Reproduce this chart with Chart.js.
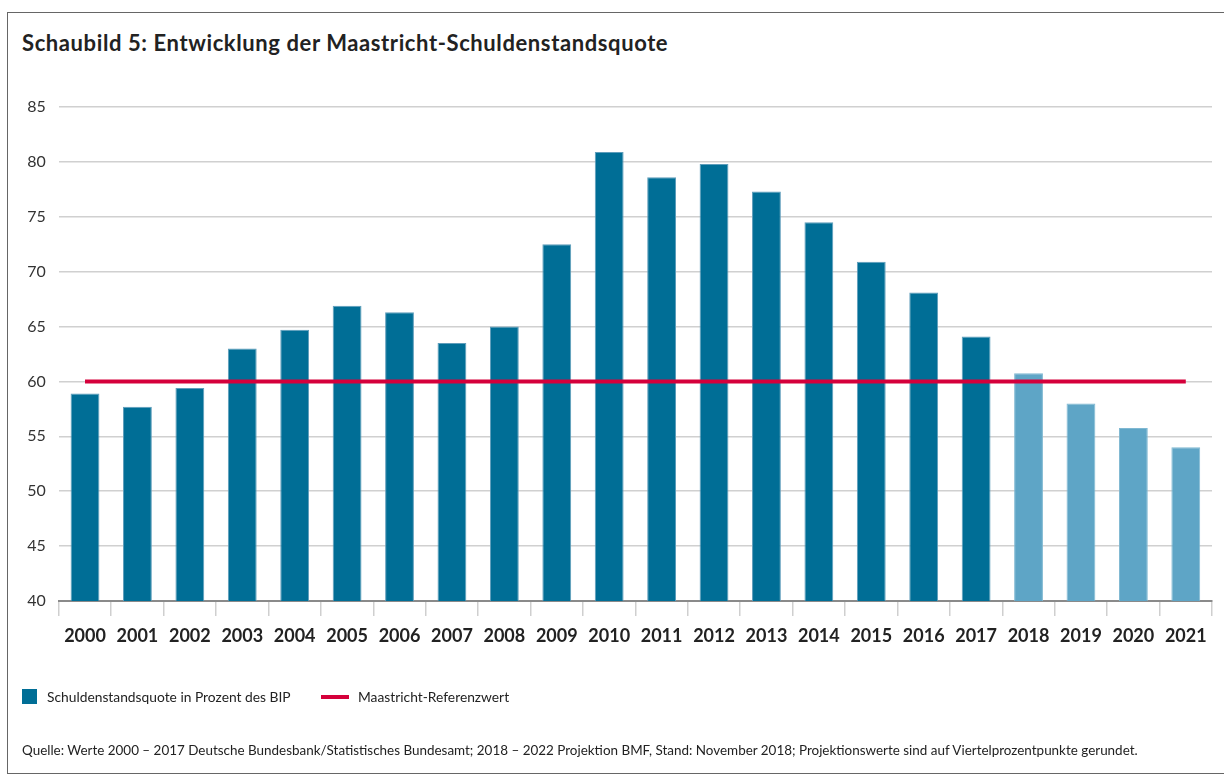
<!DOCTYPE html>
<html>
<head>
<meta charset="utf-8">
<script src="https://cdn.jsdelivr.net/npm/chart.js@4.4.1/dist/chart.umd.min.js"></script>
<style>
  html, body { margin:0; padding:0; background:#fff; }
  body { width:1224px; height:780px; position:relative; overflow:hidden; font-family: Lato, "Noto Sans", sans-serif; color:#222; }
  #frame { position:absolute; left:7px; top:12px; width:1220px; height:762px; border:1.5px solid #666; box-sizing:border-box; }
  #title { position:absolute; left:22px; top:29px; font-size:22px; font-weight:700; white-space:nowrap; letter-spacing:0.6px; }
  #cv { position:absolute; left:0; top:0; }
  .legend { position:absolute; top:688px; font-size:13.8px; white-space:nowrap; display:flex; align-items:center; }
  .sq { width:15px; height:15px; background:#006E96; display:inline-block; margin-right:10px; }
  .ln { width:28px; height:4px; background:#D5003B; display:inline-block; margin-right:9px; }
  #footer { position:absolute; left:22px; top:742px; font-size:13.45px; white-space:nowrap; }
</style>
</head>
<body>
<div id="frame"></div>
<div id="title">Schaubild 5: Entwicklung der Maastricht-Schuldenstandsquote</div>
<canvas id="cv" width="1224" height="780"></canvas>
<div class="legend" style="left:22px;"><span class="sq"></span>Schuldenstandsquote in Prozent des BIP</div>
<div class="legend" style="left:321px;"><span class="ln"></span>Maastricht-Referenzwert</div>
<div id="footer">Quelle: Werte 2000 – 2017 Deutsche Bundesbank/Statistisches Bundesamt; 2018 – 2022 Projektion BMF, Stand: November 2018; Projektionswerte sind auf Viertelprozentpunkte gerundet.</div>
<script>
const years = ["2000","2001","2002","2003","2004","2005","2006","2007","2008","2009","2010","2011","2012","2013","2014","2015","2016","2017","2018","2019","2020","2021"];
const debtRatio = [58.9, 57.7, 59.4, 63.0, 64.7, 66.9, 66.3, 63.5, 65.0, 72.5, 80.9, 78.6, 79.8, 77.3, 74.5, 70.9, 68.1, 64.1, 60.75, 58.0, 55.75, 54.0];
const referenceValue = [60,60,60,60,60,60,60,60,60,60,60,60,60,60,60,60,60,60,60,60,60,60];
const projectionStart = "2018";
const yTicks = {min:40, max:85, step:5};

const isProj = years.map(y => Number(y) >= Number(projectionStart));
const barColors = isProj.map(p => p ? '#5EA5C6' : '#006E96');
const barBorders = isProj.map(p => p ? '#7FB8D2' : '#5E9DBB');

new Chart(document.getElementById('cv'), {
  type: 'bar',
  data: {
    labels: years,
    datasets: [
      {
        type: 'line',
        label: 'Maastricht-Referenzwert',
        data: referenceValue,
        borderColor: '#D5003B',
        borderWidth: 4,
        pointRadius: 0,
        fill: false,
        order: 0
      },
      {
        type: 'bar',
        label: 'Schuldenstandsquote in Prozent des BIP',
        data: debtRatio,
        backgroundColor: barColors,
        borderColor: barBorders,
        borderWidth: {top:1, left:1, right:1, bottom:0},
        categoryPercentage: 1,
        barPercentage: 0.55,
        order: 1
      }
    ]
  },
  options: {
    responsive: false,
    devicePixelRatio: 1,
    animation: false,
    layout: { padding: { top: 107, bottom: 129, left: 0, right: 12 } },
    plugins: { legend: { display: false }, tooltip: { enabled: false } },
    scales: {
      x: {
        grid: { drawOnChartArea: false, drawTicks: true, tickLength: 15, color: '#cfcfcf', lineWidth: 1.5, offset: true },
        border: { color: '#8a8a8a', width: 2 },
        ticks: { color: '#222', font: { family: 'Lato', size: 18, weight: 'bold' }, padding: 9, maxRotation: 0, autoSkip: false },
        afterFit: s => { s.height = 50; }
      },
      y: {
        min: yTicks.min, max: yTicks.max,
        grid: { color: '#d0d0d0', lineWidth: 1.5, drawTicks: false },
        border: { display: false },
        ticks: { stepSize: yTicks.step, color: '#333', font: { family: 'Lato', size: 16 }, padding: 13 },
        afterFit: s => { s.width = 58.8; }
      }
    }
  }
});
</script>
</body>
</html>
